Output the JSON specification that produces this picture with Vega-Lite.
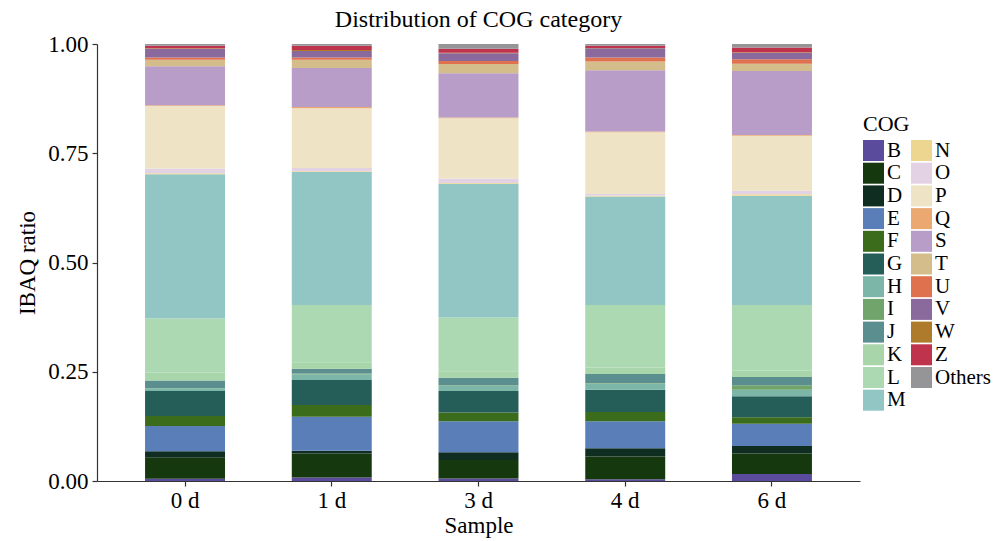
{
  "$schema": "https://vega.github.io/schema/vega-lite/v6.json",
  "width": 763,
  "height": 437,
  "autosize": {"type": "none"},
  "padding": {"left": 97, "top": 44, "right": 148, "bottom": 60},
  "background": "white",
  "title": {"text": "Distribution of COG category", "font": "Liberation Serif", "fontSize": 24, "fontWeight": "normal", "color": "black", "anchor": "middle", "frame": "group", "offset": 1},
  "config": {
    "view": {"stroke": null},
    "axis": {"labelFont": "Liberation Serif", "titleFont": "Liberation Serif", "labelFontSize": 23, "titleFontSize": 23, "titleFontWeight": "normal", "labelColor": "black", "titleColor": "black", "domainColor": "#333333", "tickColor": "#333333", "domainWidth": 1.2, "tickWidth": 1.2, "tickSize": 5, "grid": false},
    "legend": {"labelFont": "Liberation Serif", "titleFont": "Liberation Serif", "labelFontSize": 21, "titleFontSize": 22, "titleFontWeight": "normal", "labelColor": "black", "titleColor": "black"}
  },
  "data": {"values": [
    {"s":"0 d","c":"B","r":1,"v":0.005},{"s":"0 d","c":"C","r":2,"v":0.048},{"s":"0 d","c":"D","r":3,"v":0.015},{"s":"0 d","c":"E","r":4,"v":0.058},{"s":"0 d","c":"F","r":5,"v":0.023},{"s":"0 d","c":"G","r":6,"v":0.057},{"s":"0 d","c":"H","r":7,"v":0.006},{"s":"0 d","c":"I","r":8,"v":0.001},{"s":"0 d","c":"J","r":9,"v":0.017},{"s":"0 d","c":"K","r":10,"v":0.018},{"s":"0 d","c":"L","r":11,"v":0.124},{"s":"0 d","c":"M","r":12,"v":0.330},{"s":"0 d","c":"N","r":13,"v":0.002},{"s":"0 d","c":"O","r":14,"v":0.011},{"s":"0 d","c":"P","r":15,"v":0.143},{"s":"0 d","c":"Q","r":16,"v":0.002},{"s":"0 d","c":"S","r":17,"v":0.089},{"s":"0 d","c":"T","r":18,"v":0.015},{"s":"0 d","c":"U","r":19,"v":0.005},{"s":"0 d","c":"V","r":20,"v":0.020},{"s":"0 d","c":"W","r":21,"v":0.001},{"s":"0 d","c":"Z","r":22,"v":0.006},{"s":"0 d","c":"Others","r":23,"v":0.004},
    {"s":"1 d","c":"B","r":1,"v":0.008},{"s":"1 d","c":"C","r":2,"v":0.055},{"s":"1 d","c":"D","r":3,"v":0.006},{"s":"1 d","c":"E","r":4,"v":0.078},{"s":"1 d","c":"F","r":5,"v":0.027},{"s":"1 d","c":"G","r":6,"v":0.057},{"s":"1 d","c":"H","r":7,"v":0.013},{"s":"1 d","c":"I","r":8,"v":0.002},{"s":"1 d","c":"J","r":9,"v":0.011},{"s":"1 d","c":"K","r":10,"v":0.015},{"s":"1 d","c":"L","r":11,"v":0.131},{"s":"1 d","c":"M","r":12,"v":0.304},{"s":"1 d","c":"N","r":13,"v":0.002},{"s":"1 d","c":"O","r":14,"v":0.007},{"s":"1 d","c":"P","r":15,"v":0.137},{"s":"1 d","c":"Q","r":16,"v":0.003},{"s":"1 d","c":"S","r":17,"v":0.089},{"s":"1 d","c":"T","r":18,"v":0.019},{"s":"1 d","c":"U","r":19,"v":0.005},{"s":"1 d","c":"V","r":20,"v":0.015},{"s":"1 d","c":"W","r":21,"v":0.002},{"s":"1 d","c":"Z","r":22,"v":0.010},{"s":"1 d","c":"Others","r":23,"v":0.004},
    {"s":"3 d","c":"B","r":1,"v":0.006},{"s":"3 d","c":"C","r":2,"v":0.042},{"s":"3 d","c":"D","r":3,"v":0.018},{"s":"3 d","c":"E","r":4,"v":0.071},{"s":"3 d","c":"F","r":5,"v":0.020},{"s":"3 d","c":"G","r":6,"v":0.049},{"s":"3 d","c":"H","r":7,"v":0.012},{"s":"3 d","c":"I","r":8,"v":0.001},{"s":"3 d","c":"J","r":9,"v":0.017},{"s":"3 d","c":"K","r":10,"v":0.015},{"s":"3 d","c":"L","r":11,"v":0.123},{"s":"3 d","c":"M","r":12,"v":0.306},{"s":"3 d","c":"N","r":13,"v":0.002},{"s":"3 d","c":"O","r":14,"v":0.010},{"s":"3 d","c":"P","r":15,"v":0.138},{"s":"3 d","c":"Q","r":16,"v":0.002},{"s":"3 d","c":"S","r":17,"v":0.101},{"s":"3 d","c":"T","r":18,"v":0.021},{"s":"3 d","c":"U","r":19,"v":0.007},{"s":"3 d","c":"V","r":20,"v":0.018},{"s":"3 d","c":"W","r":21,"v":0.001},{"s":"3 d","c":"Z","r":22,"v":0.009},{"s":"3 d","c":"Others","r":23,"v":0.011},
    {"s":"4 d","c":"B","r":1,"v":0.004},{"s":"4 d","c":"C","r":2,"v":0.052},{"s":"4 d","c":"D","r":3,"v":0.019},{"s":"4 d","c":"E","r":4,"v":0.062},{"s":"4 d","c":"F","r":5,"v":0.021},{"s":"4 d","c":"G","r":6,"v":0.051},{"s":"4 d","c":"H","r":7,"v":0.014},{"s":"4 d","c":"I","r":8,"v":0.001},{"s":"4 d","c":"J","r":9,"v":0.021},{"s":"4 d","c":"K","r":10,"v":0.015},{"s":"4 d","c":"L","r":11,"v":0.143},{"s":"4 d","c":"M","r":12,"v":0.248},{"s":"4 d","c":"N","r":13,"v":0.002},{"s":"4 d","c":"O","r":14,"v":0.004},{"s":"4 d","c":"P","r":15,"v":0.141},{"s":"4 d","c":"Q","r":16,"v":0.002},{"s":"4 d","c":"S","r":17,"v":0.140},{"s":"4 d","c":"T","r":18,"v":0.020},{"s":"4 d","c":"U","r":19,"v":0.009},{"s":"4 d","c":"V","r":20,"v":0.021},{"s":"4 d","c":"W","r":21,"v":0.001},{"s":"4 d","c":"Z","r":22,"v":0.005},{"s":"4 d","c":"Others","r":23,"v":0.004},
    {"s":"6 d","c":"B","r":1,"v":0.016},{"s":"6 d","c":"C","r":2,"v":0.047},{"s":"6 d","c":"D","r":3,"v":0.017},{"s":"6 d","c":"E","r":4,"v":0.051},{"s":"6 d","c":"F","r":5,"v":0.015},{"s":"6 d","c":"G","r":6,"v":0.048},{"s":"6 d","c":"H","r":7,"v":0.015},{"s":"6 d","c":"I","r":8,"v":0.010},{"s":"6 d","c":"J","r":9,"v":0.019},{"s":"6 d","c":"K","r":10,"v":0.015},{"s":"6 d","c":"L","r":11,"v":0.150},{"s":"6 d","c":"M","r":12,"v":0.250},{"s":"6 d","c":"N","r":13,"v":0.003},{"s":"6 d","c":"O","r":14,"v":0.008},{"s":"6 d","c":"P","r":15,"v":0.126},{"s":"6 d","c":"Q","r":16,"v":0.002},{"s":"6 d","c":"S","r":17,"v":0.146},{"s":"6 d","c":"T","r":18,"v":0.017},{"s":"6 d","c":"U","r":19,"v":0.010},{"s":"6 d","c":"V","r":20,"v":0.015},{"s":"6 d","c":"W","r":21,"v":0.001},{"s":"6 d","c":"Z","r":22,"v":0.011},{"s":"6 d","c":"Others","r":23,"v":0.008}
  ]},
  "mark": {"type": "bar", "strokeWidth": 0},
  "encoding": {
    "x": {"field": "s", "type": "nominal", "title": "Sample", "sort": ["0 d","1 d","3 d","4 d","6 d"],
      "scale": {"paddingInner": 0.455, "paddingOuter": 0.3275},
      "axis": {"labelAngle": 0, "labelPadding": 3, "titlePadding": 2}},
    "y": {"field": "v", "type": "quantitative", "stack": "zero", "title": "IBAQ ratio",
      "scale": {"domain": [0, 1], "nice": false, "zero": true},
      "axis": {"values": [0, 0.25, 0.5, 0.75, 1], "format": ".2f", "labelPadding": 4, "titlePadding": 8}},
    "order": {"field": "r", "type": "quantitative", "sort": "ascending"},
    "color": {"field": "c", "type": "nominal", "title": "COG",
      "scale": {
        "domain": ["B","C","D","E","F","G","H","I","J","K","L","M","N","O","P","Q","S","T","U","V","W","Z","Others"],
        "range": ["#5b4b9c","#16380f","#0f2d20","#5a7fb8","#3b6c1b","#255d58","#7bb6a8","#70a46a","#5b8f8f","#a8d5a9","#acd8b2","#91c6c4","#edd690","#e3d1e4","#eee3c4","#eba870","#b79dc8","#d4bd8a","#df714f","#8a699d","#ad7b2b","#bf334c","#959598"]
      },
      "legend": {"orient": "none", "legendX": 766, "legendY": 70, "columns": 2, "symbolType": "square", "symbolSize": 441, "symbolStrokeWidth": 0, "symbolOpacity": 1, "rowPadding": 0.7, "columnPadding": 5, "labelOffset": 3, "titlePadding": 4}
    }
  }
}
